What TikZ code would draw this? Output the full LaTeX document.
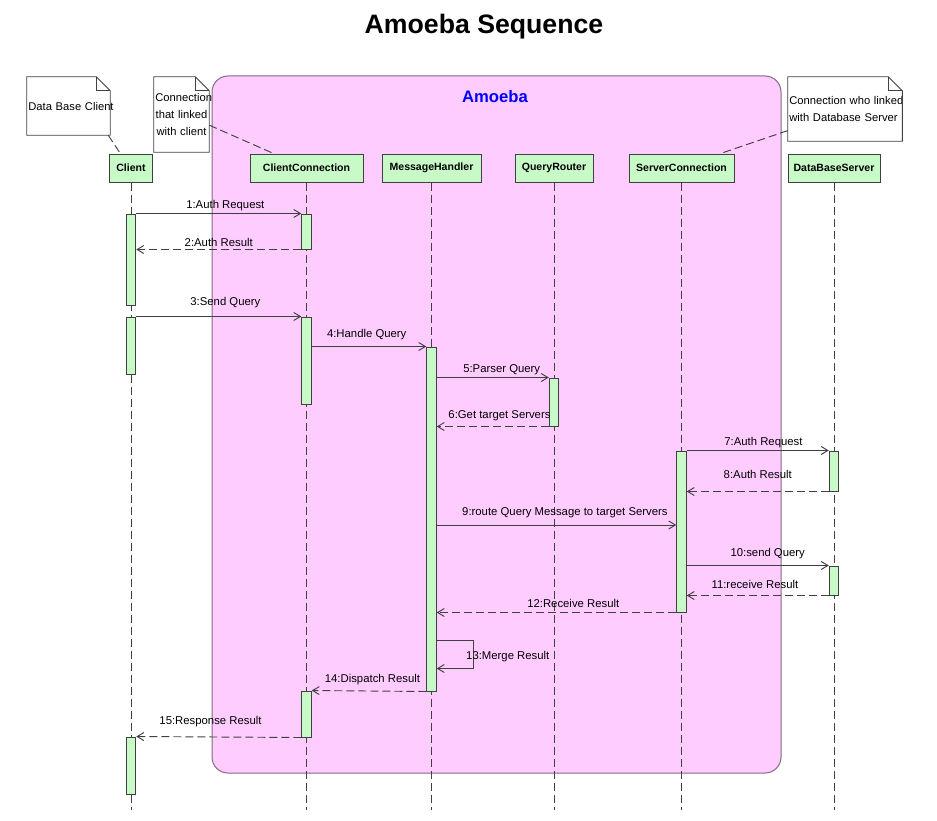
\documentclass[tikz,border=0pt]{standalone}
\usepackage{fontspec}
\setmainfont{Liberation Sans}
\usepackage{xcolor}
\usetikzlibrary{arrows.meta,fit}

\definecolor{amoebapink}{RGB}{255,204,255}
\definecolor{amoebaframe}{RGB}{130,105,130}
\definecolor{actgreen}{RGB}{200,250,200}
\definecolor{linegray}{RGB}{64,64,64}
\definecolor{amoebablue}{RGB}{0,0,255}

\tikzset{
  head/.style={draw=linegray, fill=actgreen, line width=0.75pt, minimum height=21pt, inner sep=0pt, font=\fontsize{7.9}{9}\selectfont\bfseries},
  life/.style={draw=linegray, line width=0.7pt, dash pattern=on 6pt off 3pt},
  act/.style={draw=linegray, fill=actgreen, line width=0.75pt, inner sep=0pt},
  msg/.style={draw=linegray, line width=0.7pt, -{Straight Barb[length=5pt,width=6pt]}},
  reply/.style={msg, dash pattern=on 6pt off 3pt},
  lbl/.style={font=\fontsize{8.5}{10}\selectfont, text=black, inner sep=1pt, above=0.5pt},
  notebox/.style={inner ysep=0pt, inner xsep=1pt, font=\fontsize{8.4}{13}\selectfont},
  notedraw/.style={draw=linegray, line width=0.7pt},
  notelink/.style={draw=linegray, line width=0.7pt, dash pattern=on 6pt off 3pt}
}
% activation bar: name, x, top, bottom
\newcommand{\actbar}[4]{\node[act, fit={(#2-4.75,#3) (#2+4.75,#4)}] (#1) {};}
% note outline with folded corner (y runs downwards here)
\newcommand{\dogear}[1]{%
  \draw[notedraw] (#1.north west) -- ([xshift=-10.5pt]#1.north east) -- ([yshift=10.5pt]#1.north east) -- (#1.south east) -- (#1.south west) -- cycle;
  \draw[notedraw] ([xshift=-10.5pt]#1.north east) |- ([yshift=10.5pt]#1.north east);}

\begin{document}
\begin{tikzpicture}[x=0.75pt,y=0.75pt,yscale=-1,xscale=1]
        \useasboundingbox (0,0) rectangle (937,820);
        
        %Text Node: title
        \node[font=\fontsize{20}{24}\selectfont\bfseries] (title) at (484,27) {Amoeba Sequence};
        
        %Shape: Rounded Rect (Amoeba frame)
        \draw[draw=amoebaframe, fill=amoebapink, line width=0.75pt, rounded corners=12pt] (212,76) rectangle (781,773);
        \node[font=\fontsize{12.5}{15}\selectfont\bfseries, text=amoebablue] (amoebalbl) at (495,97) {Amoeba};
        
        %Shape: Notes
        \node[notebox, align=left, text width=60.25pt, minimum height=43.5pt] (dbnote) at (68.5,106) {\mbox{Data Base Client}};
        \dogear{dbnote}
        \node[notebox, align=center, text width=39.25pt, minimum height=56.25pt] (ccnote) at (181.5,114.5) {\mbox{Connection}\\\mbox{that linked}\\\mbox{with client}};
        \dogear{ccnote}
        \node[notebox, align=left, text width=83.5pt, minimum height=48pt] (srvnote) at (845,109) {\mbox{Connection who linked}\\\mbox{with Database Server}};
        \dogear{srvnote}
        
        %Shape: Lifeline heads
        \node[head, minimum width=32.25pt] (client) at (131,168) {Client};
        \node[head, minimum width=84.75pt] (clientconn) at (306.5,168) {ClientConnection};
        \node[head, minimum width=74.25pt] (msghandler) at (431.5,168) {MessageHandler};
        \node[head, minimum width=58.5pt] (queryrouter) at (554,168) {QueryRouter};
        \node[head, minimum width=78.75pt] (serverconn) at (681.5,168) {ServerConnection};
        \node[head, minimum width=69pt] (dbserver) at (834,168) {DataBaseServer};
        
        %Straight Lines: note links
        \draw[notelink] ([xshift=-1.5pt]dbnote.south east) -- ([xshift=-8pt]client.north);
        \draw[notelink] ([yshift=8pt]ccnote.east) -- ([xshift=18pt]clientconn.north west);
        \draw[notelink] ([yshift=-8pt]srvnote.south west) -- ([xshift=-10.5pt]serverconn.north east);
        
        %Straight Lines: lifelines
        \coordinate (lifeend) at (0,810);
        \foreach \who in {client,clientconn,msghandler,queryrouter,serverconn,dbserver}
          \draw[life] (\who) -- (\who |- lifeend);
        
        %Shape: Activation bars
        \actbar{clientact1}{131}{214}{305}
        \actbar{clientact2}{131}{317}{374}
        \actbar{clientact3}{131}{737}{794}
        \actbar{connact1}{306.5}{214}{249}
        \actbar{connact2}{306.5}{317}{404}
        \actbar{connact3}{306.5}{691}{737}
        \actbar{handlact}{431.5}{347}{691}
        \actbar{routeract}{554}{378}{426}
        \actbar{srvact}{681.5}{451}{612}
        \actbar{dbact1}{834}{451}{491}
        \actbar{dbact2}{834}{566}{595}
        
        %Straight Lines: messages
        \draw[msg] (clientact1.north east) -- node[lbl, pos=0.54] {1:Auth Request} (connact1.north west);
        \draw[reply] (connact1.south west) -- node[lbl, pos=0.5] {2:Auth Result} (clientact1.east |- connact1.south);
        \draw[msg] (clientact2.north east) -- node[lbl, pos=0.54, above=5pt] {3:Send Query} (connact2.north west);
        \draw[msg] (connact2.east |- handlact.north) -- node[lbl, pos=0.48, above=3.5pt] {4:Handle Query} (handlact.north west);
        \draw[msg] (handlact.east |- routeract.north) -- node[lbl, pos=0.58] {5:Parser Query} (routeract.north west);
        \draw[reply] (routeract.south west) -- node[lbl, pos=0.44, above=2.25pt] {6:Get target Servers} (handlact.east |- routeract.south);
        \draw[msg] (srvact.north east) -- node[lbl, pos=0.54] {7:Auth Request} (dbact1.north west);
        \draw[reply] (dbact1.south west) -- node[lbl, pos=0.5, above=8pt] {8:Auth Result} (srvact.east |- dbact1.south);
        \coordinate (routerow) at (431.5,525);
        \draw[msg] (handlact.east |- routerow) -- node[lbl, pos=0.535, above=3.5pt] {9:route Query Message to target Servers} (srvact.west |- routerow);
        \draw[msg] (srvact.east |- dbact2.north) -- node[lbl, pos=0.57, above=3pt] {10:send Query} (dbact2.north west);
        \draw[reply] (dbact2.south west) -- node[lbl, pos=0.52, above=3.5pt] {11:receive Result} (srvact.east |- dbact2.south);
        \draw[reply] (srvact.south west) -- node[lbl, pos=0.43, above=2pt] {12:Receive Result} (handlact.east |- srvact.south);
        \coordinate (mergerow) at (431.5,640.5);
        \draw[msg] (handlact.east |- mergerow) -- ++(37,0) -- ++(0,28) node[midway, lbl, anchor=west, xshift=-7pt, yshift=-2pt] {13:Merge Result} -- ++(-37,0);
        \draw[reply] (handlact.south west) -- node[lbl, pos=0.47, above=2.5pt] {14:Dispatch Result} (connact3.north east);
        \draw[reply] (connact3.south west) -- node[lbl, pos=0.55, above=6pt] {15:Response Result} (clientact3.north east);
\end{tikzpicture}
\end{document}
